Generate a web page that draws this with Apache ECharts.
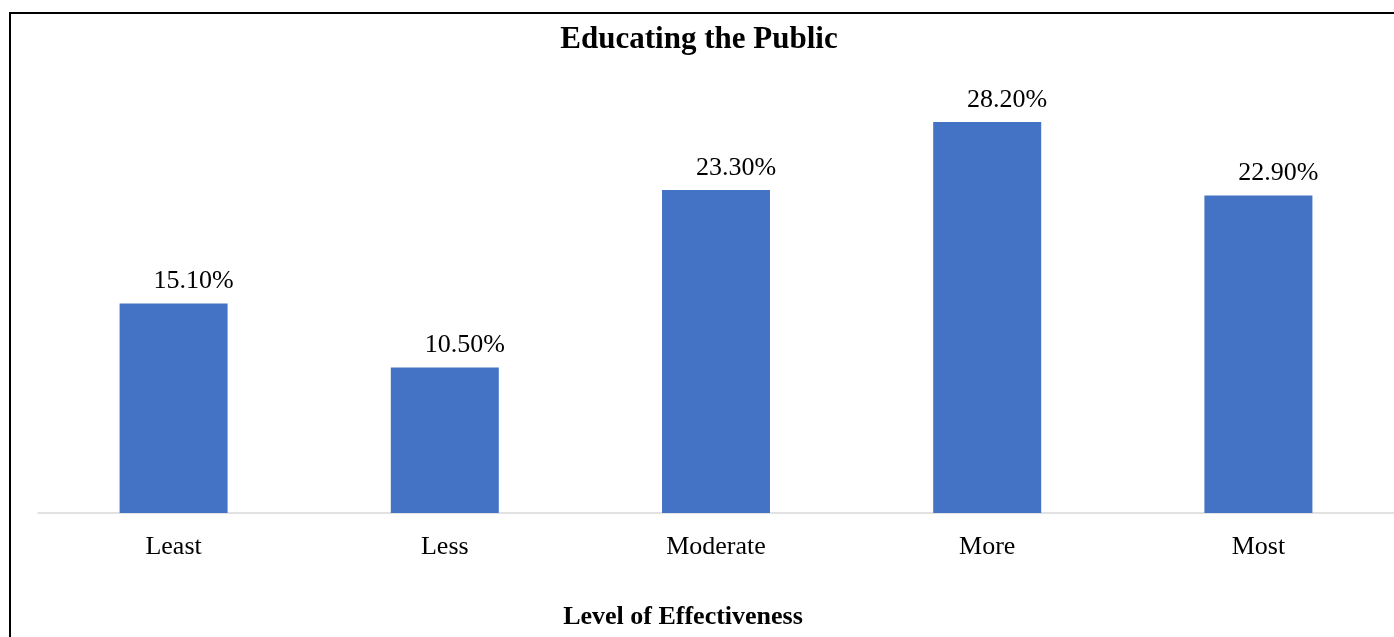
<!DOCTYPE html>
<html lang="en" style="height: 100%">
<head>
  <meta charset="utf-8">
  <title>Educating the Public</title>
  <script type="text/javascript" src="https://fastly.jsdelivr.net/npm/echarts@6/dist/echarts.min.js"></script>
</head>
<body style="height: 100%; margin: 0; background: #fff">
  <div id="chart" style="width: 1394px; height: 637px"></div>

  <script type="text/javascript">
    var dom = document.getElementById('chart');
    var myChart = echarts.init(dom);

    let levels = ['Least', 'Less', 'Moderate', 'More', 'Most'];
    let shares = [15.1, 10.5, 23.3, 28.2, 22.9];

    const serif = '"Liberation Serif", "Times New Roman", serif';

    let option = {
      backgroundColor: '#fff',
      animation: false,
      title: {
        text: 'Educating the Public',
        left: 694,
        textAlign: 'center',
        top: 19,
        textStyle: { fontFamily: serif, fontSize: 31, fontWeight: 'bold', color: '#000' }
      },
      graphic: [
        {
          type: 'rect',
          shape: { x: 10, y: 13, width: 1500, height: 800 },
          style: { fill: 'none', stroke: '#000', lineWidth: 2 },
          silent: true
        }
      ],
      grid: { left: 38, right: -1, top: 97, bottom: 124 },
      xAxis: {
        type: 'category',
        data: levels,
        axisLine: { lineStyle: { color: '#d9d9d9', width: 1.5 } },
        axisTick: { show: false },
        axisLabel: { fontFamily: serif, fontSize: 26, color: '#000', margin: 21 },
        name: 'Level of Effectiveness',
        nameLocation: 'middle',
        nameGap: 91,
        nameTextStyle: {
          fontFamily: serif, fontSize: 26, fontWeight: 'bold', color: '#000',
          padding: [0, 66, 0, 0]
        }
      },
      yAxis: {
        type: 'value',
        min: 0,
        max: 30,
        show: false
      },
      series: [
        {
          type: 'bar',
          data: shares,
          barWidth: 108,
          itemStyle: { color: '#4472c4' },
          label: {
            show: true,
            position: 'top',
            distance: 9,
            offset: [20, 0],
            fontFamily: serif,
            fontSize: 26,
            color: '#000',
            formatter: p => p.value.toFixed(2) + '%'
          }
        }
      ]
    };

    myChart.setOption(option);
  </script>
</body>
</html>
